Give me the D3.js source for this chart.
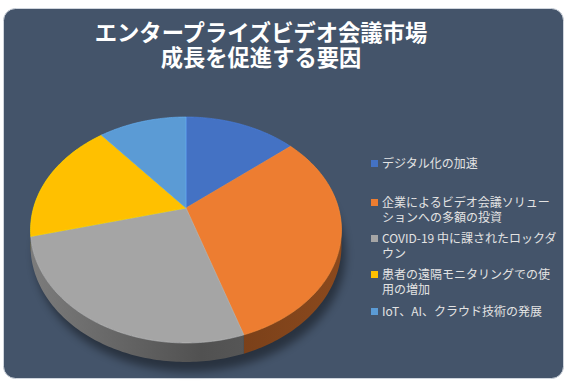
<!DOCTYPE html>
<html>
<head>
<meta charset="utf-8">
<script src="https://cdn.jsdelivr.net/npm/d3@7"></script>
<style>
  body { margin: 0; background: #fff; }
  svg { display: block; }
</style>
</head>
<body>
<div id="chart"></div>
<script>
const titleLines = ["エンタープライズビデオ会議市場", "成長を促進する要因"];
// legend labels, already broken into the lines shown in the legend
const legendLabels = [
    ["デジタル化の加速"],
    ["企業によるビデオ会議ソリュー", "ションへの多額の投資"],
    ["COVID-19 中に課されたロックダ", "ウン"],
    ["患者の遠隔モニタリングでの使", "用の増加"],
    ["IoT、AI、クラウド技術の発展"]
];
const categories = legendLabels.map(l => l.join(""));
const values = [14, 31, 26, 18, 11];
const colors = ["#4472C4", "#ED7D31", "#A5A5A5", "#FFC000", "#5B9BD5"];

const width = 568, height = 387;

const svg = d3.select("#chart")
    .append("svg")
    .attr("width", width)
    .attr("height", height);

const defs = svg.append("defs");
defs.append("filter")
    .attr("id", "shadow")
    .attr("x", "-20%").attr("y", "-20%")
    .attr("width", "140%").attr("height", "140%")
    .append("feGaussianBlur")
    .attr("stdDeviation", 4);

// panel
svg.append("rect")
    .attr("x", 3.5).attr("y", 8.5)
    .attr("width", 560).attr("height", 370)
    .attr("rx", 12)
    .attr("fill", "#44546A")
    .attr("stroke", "#cfd5dd")
    .attr("stroke-width", 1);

// title
svg.append("g")
    .selectAll("text")
    .data(titleLines)
    .enter()
    .append("text")
    .attr("x", 261)
    .attr("y", (d, i) => 41 + i * 25)
    .attr("text-anchor", "middle")
    .attr("fill", "#ffffff")
    .attr("font-family", "'Noto Sans CJK JP', sans-serif")
    .attr("font-weight", "bold")
    .attr("font-size", 22.3)
    .text(d => d);

// 3d pie, perspective projection of a tilted disk
const cx = 186, cy = 208;
const D = 5.14, A = 152.5, B = 108.7, T = 15.3;

function proj(theta, h) {
    const u = Math.sin(theta), v = -Math.cos(theta);
    const s = D / (D - v);
    return [cx + A * u * s, cy + B * v * s + h * T * s];
}

function arcPoints(a0, a1, h) {
    const n = Math.max(2, Math.ceil((a1 - a0) / (Math.PI / 180)));
    return d3.range(n + 1).map(i => proj(a0 + (a1 - a0) * i / n, h));
}

const pie = d3.pie().sort(null).value(d => d);
const slices = pie(values).map((d, i) => ({...d, color: colors[i], name: categories[i], i}));

const line = d3.line();
const pieG = svg.append("g");

// shadow under the pie
pieG.append("path")
    .attr("d", line(arcPoints(0, 2 * Math.PI, 1.4)) + "Z")
    .attr("transform", "translate(4,2)")
    .attr("fill", "#000")
    .attr("opacity", 0.4)
    .attr("filter", "url(#shadow)");

// side gradients
slices.forEach(d => {
    const c = d3.color(d.color);
    const g = defs.append("linearGradient")
        .attr("id", "side" + d.i)
        .attr("gradientUnits", "userSpaceOnUse")
        .attr("x1", cx - 156).attr("x2", cx + 156)
        .attr("y1", 0).attr("y2", 0);
    g.append("stop").attr("offset", "0%").attr("stop-color", c.darker(0.8));
    g.append("stop").attr("offset", "55%").attr("stop-color", c.darker(2.0));
    g.append("stop").attr("offset", "100%").attr("stop-color", c.darker(1.5));
});

// sides, back to front
const sideOrder = slices.slice().sort((a, b) =>
    -Math.cos((a.startAngle + a.endAngle) / 2) - -Math.cos((b.startAngle + b.endAngle) / 2));

pieG.selectAll(".side")
    .data(sideOrder)
    .enter()
    .append("path")
    .attr("class", "side")
    .attr("d", d => {
        const top = arcPoints(d.startAngle, d.endAngle, 0);
        const bot = arcPoints(d.startAngle, d.endAngle, 1).reverse();
        return line(top.concat(bot)) + "Z";
    })
    .attr("fill", d => `url(#side${d.i})`);

// top faces
pieG.selectAll(".top")
    .data(slices)
    .enter()
    .append("path")
    .attr("class", "top")
    .attr("d", d => line([[cx, cy]].concat(arcPoints(d.startAngle, d.endAngle, 0))) + "Z")
    .attr("fill", d => d.color)
    .attr("stroke", d => d3.color(d.color).brighter(0.4))
    .attr("stroke-width", 0.6)
    .attr("stroke-linejoin", "round");

// legend
const legendY = [164, 203, 239, 275, 312];
const legend = svg.append("g");

legendLabels.forEach((lines, i) => {
    const g = legend.append("g").attr("transform", `translate(371,${legendY[i]})`);
    g.append("rect")
        .attr("x", 0).attr("y", -4)
        .attr("width", 7).attr("height", 7)
        .attr("fill", colors[i]);
    g.append("text")
        .attr("fill", "#e3e3e3")
        .attr("font-family", "'Noto Sans CJK JP', sans-serif")
        .attr("font-size", 12)
        .selectAll("tspan")
        .data(lines)
        .enter()
        .append("tspan")
        .attr("x", 11)
        .attr("y", (d, j) => 4 + j * 15)
        .text(d => d);
});
</script>
</body>
</html>
